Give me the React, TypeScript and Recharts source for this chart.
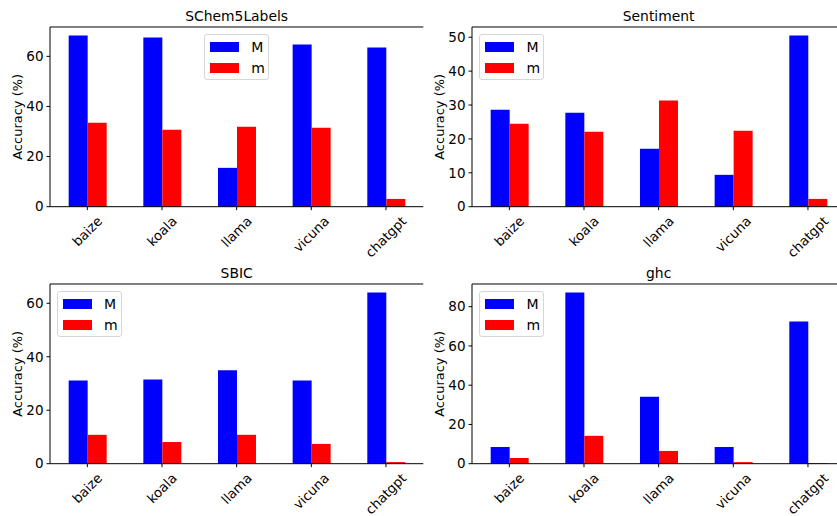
import React from 'react'
import { BarChart, Bar, XAxis, YAxis, Legend } from 'recharts'

const models = ['baize', 'koala', 'llama', 'vicuna', 'chatgpt']

const schemMajor = [68.3, 67.5, 15.5, 64.7, 63.5]
const schemMinor = [33.5, 30.7, 31.9, 31.5, 3.1]
const sentimentMajor = [28.6, 27.7, 17.1, 9.4, 50.5]
const sentimentMinor = [24.5, 22.1, 31.3, 22.4, 2.3]
const sbicMajor = [31.1, 31.5, 34.9, 31.1, 64.0]
const sbicMinor = [10.8, 8.1, 10.8, 7.4, 0.6]
const ghcMajor = [8.5, 87.2, 34.1, 8.5, 72.5]
const ghcMinor = [2.9, 14.2, 6.5, 0.8, 0.3]

const ticks20 = [0, 20, 40, 60]
const ticks10 = [0, 10, 20, 30, 40, 50]
const ticks80 = [0, 20, 40, 60, 80]

const FONT = '"DejaVu Sans", sans-serif'
const X_TICK_SIZE = 13.3
const Y_TICK_SIZE = 13.5

// plot box inside each chart
const PLOT_L = 50
const PLOT_T = 27
const PLOT_W = 373.3
const PLOT_H = 179.7

let measureCtx: CanvasRenderingContext2D | null = null
function textWidth(s: string, size: number) {
  if (!measureCtx) measureCtx = document.createElement('canvas').getContext('2d')
  if (!measureCtx) return s.length * size * 0.6
  measureCtx.font = `${size}px "DejaVu Sans"`
  return measureCtx.measureText(s).width
}

// matplotlib-like rotated label: bbox centered under the tick, top aligned
const RotatedTick = (props: any) => {
  const { x, y, payload } = props
  const w = textWidth(payload.value, X_TICK_SIZE)
  const h = X_TICK_SIZE * 1.1
  const cy = y + ((w + h) * Math.SQRT1_2) / 2
  return (
    <text
      x={x}
      y={cy}
      textAnchor="middle"
      dominantBaseline="central"
      transform={`rotate(-45 ${x} ${cy})`}
      fontSize={X_TICK_SIZE}
      fontFamily={FONT}
      fill="#000"
    >
      {payload.value}
    </text>
  )
}

const LegendBox = ({ payload }: any) => (
  <div
    style={{
      width: 65,
      height: 45.5,
      boxSizing: 'border-box',
      border: '1px solid #d6d6d6',
      borderRadius: 3,
      background: 'rgba(255,255,255,0.8)',
      paddingTop: 1.5,
      fontFamily: FONT,
      fontSize: 14,
      color: '#000',
    }}
  >
    {(payload || []).map((p: any) => (
      <div key={p.value} style={{ display: 'flex', alignItems: 'center', height: 20.7 }}>
        <div style={{ width: 29, height: 10, background: p.color, marginLeft: 5 }} />
        <span style={{ marginLeft: 12, lineHeight: '14px' }}>{p.value}</span>
      </div>
    ))}
  </div>
)

type PanelProps = {
  title: string
  major: number[]
  minor: number[]
  ticks: number[]
  left: number
  top: number
  legendCenter?: boolean
}

function Panel({ title, major, minor, ticks, left, top, legendCenter }: PanelProps) {
  const data = models.map((name, i) => ({ name, major: major[i], minor: minor[i] }))
  const ymax = Math.max(...major, ...minor) * 1.05
  const legendLeft = legendCenter ? PLOT_L + PLOT_W / 2 - 32.5 : PLOT_L + 7
  return (
    <div style={{ position: 'absolute', left, top }}>
      <BarChart
        width={PLOT_L + PLOT_W + 8}
        height={PLOT_T + PLOT_H + 56}
        data={data}
        margin={{ top: PLOT_T - 1, right: 8, left: 0, bottom: 0 }}
        barCategoryGap="25%"
        barGap={0}
      >
        <XAxis
          dataKey="name"
          stroke="#000"
          tickSize={3.5}
          tickMargin={3.5}
          height={56}
          interval={0}
          tick={<RotatedTick />}
        />
        <XAxis
          xAxisId="top"
          dataKey="name"
          orientation="top"
          stroke="#000"
          height={1}
          tick={false}
          tickLine={false}
          label={{ value: title, position: 'top', offset: 5, fill: '#000', fontSize: 13.9, fontFamily: FONT }}
        />
        <YAxis
          width={PLOT_L}
          domain={[0, ymax]}
          ticks={ticks}
          stroke="#000"
          tickSize={3.5}
          tickMargin={3}
          tick={{ fill: '#000', fontSize: Y_TICK_SIZE, fontFamily: FONT }}
          label={{
            value: 'Accuracy (%)',
            angle: -90,
            position: 'insideLeft',
            offset: 17,
            fill: '#000',
            fontSize: 13,
            fontFamily: FONT,
            style: { textAnchor: 'middle' },
          }}
        />
        <YAxis yAxisId="right" orientation="right" width={0} stroke="#000" tick={false} tickLine={false} />
        <Legend
          layout="horizontal"
          verticalAlign="middle"
          align="center"
          content={<LegendBox />}
          wrapperStyle={{ left: legendLeft, top: PLOT_T + 7, width: 'auto', height: 'auto' }}
        />
        <Bar dataKey="major" name="M" fill="#0000ff" isAnimationActive={false} />
        <Bar dataKey="minor" name="m" fill="#ff0000" isAnimationActive={false} />
      </BarChart>
    </div>
  )
}

export default function App() {
  return (
    <div
      style={{
        position: 'absolute',
        left: 0,
        top: 0,
        width: 837,
        height: 516,
        overflow: 'hidden',
        background: '#fff',
      }}
    >
      <Panel title="SChem5Labels" major={schemMajor} minor={schemMinor} ticks={ticks20} left={0} top={0} legendCenter />
      <Panel title="Sentiment" major={sentimentMajor} minor={sentimentMinor} ticks={ticks10} left={422.4} top={0} />
      <Panel title="SBIC" major={sbicMajor} minor={sbicMinor} ticks={ticks20} left={0} top={257.3} />
      <Panel title="ghc" major={ghcMajor} minor={ghcMinor} ticks={ticks80} left={422.4} top={257.3} />
    </div>
  )
}
